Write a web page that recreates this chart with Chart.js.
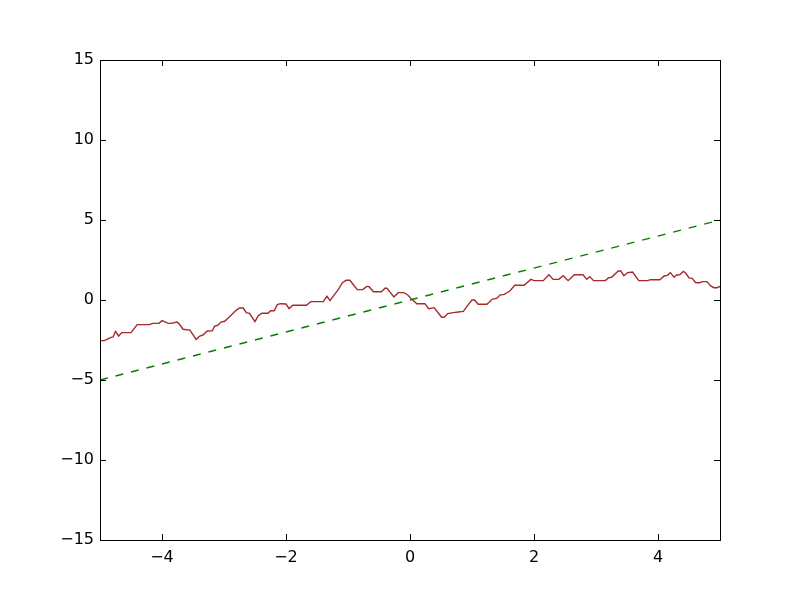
<!DOCTYPE html>
<html>
<head>
<meta charset="utf-8">
<script src="https://cdn.jsdelivr.net/npm/chart.js@4.4.1/dist/chart.umd.min.js"></script>
<style>
  body { margin: 0; background: #fff; }
  #wrap { width: 800px; height: 600px; }
</style>
</head>
<body>
<div id="wrap"><canvas id="chart" width="800" height="600"></canvas></div>
<script>
// data
const walkX = [-5.00, -4.93, -4.83, -4.79, -4.75, -4.70, -4.65, -4.50, -4.40, -4.20, -4.15, -4.05, -4.00, -3.90, -3.85, -3.76, -3.73, -3.66, -3.55, -3.45, -3.39, -3.34, -3.27, -3.19, -3.15, -3.10, -3.05, -2.99, -2.92, -2.80, -2.75, -2.69, -2.64, -2.59,
    -2.50, -2.45, -2.39, -2.29, -2.25, -2.19, -2.14, -2.09, -2.00, -1.95, -1.89, -1.67, -1.60, -1.40, -1.34, -1.29, -1.21, -1.16, -1.09, -1.03, -0.97, -0.91, -0.85, -0.76, -0.70, -0.66, -0.59, -0.46, -0.40, -0.37, -0.26, -0.19, -0.10, -0.04,
    0.03, 0.11, 0.24, 0.30, 0.39, 0.46, 0.51, 0.55, 0.61, 0.70, 0.78, 0.86, 0.94, 1.00, 1.04, 1.10, 1.24, 1.33, 1.40, 1.45, 1.52, 1.61, 1.69, 1.84, 1.95, 2.00, 2.15, 2.24, 2.31, 2.40,
    2.47, 2.55, 2.65, 2.79, 2.85, 2.90, 2.96, 3.15, 3.20, 3.25, 3.36, 3.40, 3.45, 3.51, 3.59, 3.69, 3.83, 3.88, 4.03, 4.10, 4.15, 4.20, 4.26, 4.30, 4.35, 4.41, 4.45, 4.50, 4.55, 4.61, 4.67, 4.72, 4.79, 4.85, 4.90, 4.95, 5.00];
const walkY = [-2.54, -2.54, -2.35, -2.31, -1.96, -2.25, -2.04, -2.04, -1.54, -1.54, -1.46, -1.46, -1.29, -1.46, -1.46, -1.38, -1.46, -1.83, -1.88, -2.46, -2.25, -2.19, -1.94, -1.92, -1.63, -1.58, -1.38, -1.33, -1.08, -0.63, -0.50, -0.50, -0.79, -0.83,
    -1.35, -1.00, -0.83, -0.83, -0.67, -0.67, -0.29, -0.23, -0.25, -0.54, -0.33, -0.33, -0.10, -0.10, 0.23, -0.04, 0.38, 0.63, 1.08, 1.23, 1.23, 0.94, 0.65, 0.65, 0.85, 0.83, 0.52, 0.52, 0.75, 0.73, 0.19, 0.46, 0.46, 0.33,
    0.04, -0.23, -0.23, -0.54, -0.48, -0.83, -1.08, -1.08, -0.85, -0.79, -0.75, -0.71, -0.29, 0.00, 0.00, -0.27, -0.27, 0.06, 0.10, 0.31, 0.35, 0.56, 0.92, 0.92, 1.29, 1.21, 1.21, 1.58, 1.29, 1.29,
    1.52, 1.21, 1.58, 1.58, 1.29, 1.46, 1.21, 1.21, 1.38, 1.42, 1.81, 1.81, 1.52, 1.71, 1.75, 1.21, 1.21, 1.27, 1.27, 1.50, 1.54, 1.71, 1.42, 1.56, 1.58, 1.79, 1.67, 1.38, 1.35, 1.08, 1.08, 1.15, 1.15, 0.88, 0.77, 0.77, 0.85];
const lineX = [-5, 5];
const lineY = [-5, 5];
const xTicks = [-4, -2, 0, 2, 4];
const yTicks = [-15, -10, -5, 0, 5, 10, 15];

function toPoints(xs, ys) {
    return xs.map((x, i) => ({ x: x, y: ys[i] }));
}

function fmt(v) {
    return String(v).replace('-', '\u2212');
}

// box around the plot + inward ticks on every side (matplotlib classic look)
const frame = {
    id: 'frame',
    afterDraw(chart) {
        const ctx = chart.ctx;
        const a = chart.chartArea;
        const xs = chart.scales.x;
        const ys = chart.scales.y;
        ctx.save();
        ctx.strokeStyle = '#000';
        ctx.lineWidth = 1;
        ctx.beginPath();
        xTicks.forEach(v => {
            const px = Math.round(xs.getPixelForValue(v)) + 0.5;
            ctx.moveTo(px, a.bottom); ctx.lineTo(px, a.bottom - 6);
            ctx.moveTo(px, a.top); ctx.lineTo(px, a.top + 6);
        });
        yTicks.forEach(v => {
            const py = Math.round(ys.getPixelForValue(v)) + 0.5;
            ctx.moveTo(a.left, py); ctx.lineTo(a.left + 6, py);
            ctx.moveTo(a.right, py); ctx.lineTo(a.right - 6, py);
        });
        ctx.stroke();
        ctx.strokeRect(Math.round(a.left) + 0.5, Math.round(a.top) + 0.5, Math.round(a.right - a.left), Math.round(a.bottom - a.top));
        ctx.restore();
    }
};

Chart.defaults.color = '#000';
Chart.defaults.font.family = 'DejaVu Sans';
Chart.defaults.font.size = 16;

new Chart(document.getElementById('chart'), {
    type: 'line',
    data: {
        datasets: [{
            data: toPoints(walkX, walkY),
            borderColor: '#a52a2a',
            borderWidth: 1.4,
            pointRadius: 0,
            tension: 0
        }, {
            data: toPoints(lineX, lineY),
            borderColor: '#008000',
            borderWidth: 1.4,
            borderDash: [8, 8],
            pointRadius: 0,
            tension: 0
        }]
    },
    options: {
        responsive: false,
        animation: false,
        layout: { padding: { top: 60, right: 80, left: 0, bottom: 0 } },
        plugins: { legend: { display: false }, tooltip: { enabled: false } },
        scales: {
            x: {
                type: 'linear',
                min: -5,
                max: 5,
                grid: { display: false, drawTicks: false },
                border: { display: false },
                afterBuildTicks: s => { s.ticks = xTicks.map(v => ({ value: v })); },
                afterFit: s => { s.height = 60; },
                ticks: { padding: 8, maxRotation: 0, callback: v => fmt(v) }
            },
            y: {
                type: 'linear',
                min: -15,
                max: 15,
                grid: { display: false, drawTicks: false },
                border: { display: false },
                afterBuildTicks: s => { s.ticks = yTicks.map(v => ({ value: v })); },
                afterFit: s => { s.width = 100; },
                ticks: { padding: 6, callback: v => fmt(v) }
            }
        }
    },
    plugins: [frame]
});
</script>
</body>
</html>
